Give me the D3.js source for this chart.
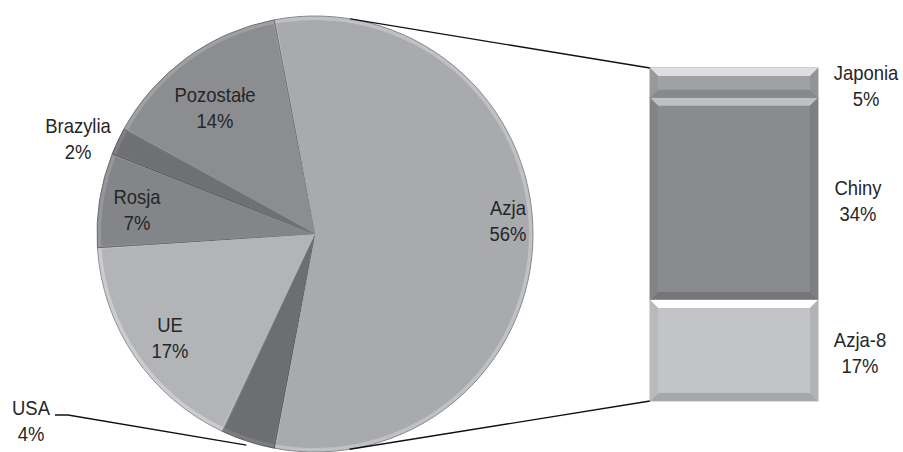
<!DOCTYPE html>
<html>
<head>
<meta charset="utf-8">
<script src="https://cdn.jsdelivr.net/npm/d3@7"></script>
<style>
  html, body { margin: 0; padding: 0; background: #fff; }
  svg { display: block; }
  text { font-family: "Liberation Sans", Arial, sans-serif; fill: #262626; }
</style>
</head>
<body>
<svg id="chart" width="903" height="452"></svg>
<script>
// Main pie: shares of each region (%), Azja is split out into the bar
const pieLabels = ["Azja", "USA", "UE", "Rosja", "Brazylia", "Pozostałe"];
const pieValues = [56, 4, 17, 7, 2, 14];
const pieColors = ["#a9aaad", "#6d6e71", "#b3b4b7", "#848588", "#6f7073", "#8c8d90"];

// Breakdown of Azja (%), stacked top to bottom
const barLabels = ["Japonia", "Chiny", "Azja-8"];
const barValues = [5, 34, 17];
const barColors = ["#a0a1a4", "#8a8b8e", "#c3c4c7"];

const svg = d3.select("#chart");
const cx = 315, cy = 234, R = 218;
const fs = 20.5, sx = 0.9, lh = 26;

// start so the Azja slice is centred on the right-hand side
const azjaAngle = pieValues[0] / d3.sum(pieValues) * 2 * Math.PI;
const startA = Math.PI / 2 - azjaAngle / 2;

const pie = d3.pie().sort(null).value(d => d)
  .startAngle(startA).endAngle(startA + 2 * Math.PI);
const arcs = pie(pieValues);
const arc = d3.arc().innerRadius(0).outerRadius(R);
const faceArc = d3.arc().innerRadius(0).outerRadius(R - 4).padAngle(0.012).padRadius(R);

const g = svg.append("g").attr("transform", `translate(${cx},${cy})`);

// slices with a soft bevel: light rim with darker outline, then inset face
g.selectAll("path.base").data(arcs).join("path")
  .attr("class", "base")
  .attr("d", arc)
  .attr("fill", (d, i) => d3.color(pieColors[i]).brighter(0.35))
  .attr("stroke", (d, i) => d3.color(pieColors[i]).darker(0.6))
  .attr("stroke-width", 1);
g.selectAll("path.face").data(arcs).join("path")
  .attr("class", "face")
  .attr("d", faceArc)
  .attr("fill", (d, i) => pieColors[i]);

// connectors from pie tangents to the bar corners
const barX0 = 650, barX1 = 818, barTop = 68, barBot = 401;
const y = d3.scaleLinear().domain([0, d3.sum(barValues)]).range([barTop, barBot]);
function tangentPoint(px, py, upper) {
  const dx = px - cx, dy = py - cy;
  const d = Math.hypot(dx, dy);
  const base = Math.atan2(dy, dx);
  const off = Math.acos(R / d);
  const a = upper ? base - off : base + off;
  return [cx + R * Math.cos(a), cy + R * Math.sin(a)];
}
const tTop = tangentPoint(barX0, y(0), true);
const tBot = tangentPoint(barX0, y(d3.sum(barValues)), false);
svg.append("line").attr("x1", tTop[0]).attr("y1", tTop[1])
  .attr("x2", barX0).attr("y2", y(0)).attr("stroke", "#111").attr("stroke-width", 1.3);
svg.append("line").attr("x1", tBot[0]).attr("y1", tBot[1])
  .attr("x2", barX0).attr("y2", y(d3.sum(barValues))).attr("stroke", "#111").attr("stroke-width", 1.3);

// stacked bar with bevelled segments
let acc = 0;
const segs = barValues.map((v, i) => { const s = { i, v, y0: acc, y1: acc + v }; acc += v; return s; });
const bg = svg.append("g");
segs.forEach(s => {
  const top = y(s.y0), bot = y(s.y1), c = barColors[s.i];
  const b = Math.min(8, (bot - top) / 3);
  bg.append("rect").attr("x", barX0).attr("y", top).attr("width", barX1 - barX0).attr("height", bot - top)
    .attr("fill", c).attr("stroke", d3.color(c).darker(0.5)).attr("stroke-width", 0.8);
  // top highlight
  bg.append("polygon")
    .attr("points", [[barX0, top], [barX1, top], [barX1 - b, top + b], [barX0 + b, top + b]].join(" "))
    .attr("fill", d3.color(c).brighter(0.9));
  // bottom shade
  bg.append("polygon")
    .attr("points", [[barX0, bot], [barX1, bot], [barX1 - b, bot - b], [barX0 + b, bot - b]].join(" "))
    .attr("fill", d3.color(c).darker(0.45));
  // side shades
  bg.append("polygon")
    .attr("points", [[barX0, top], [barX0 + b, top + b], [barX0 + b, bot - b], [barX0, bot]].join(" "))
    .attr("fill", d3.color(c).darker(0.15));
  bg.append("polygon")
    .attr("points", [[barX1, top], [barX1 - b, top + b], [barX1 - b, bot - b], [barX1, bot]].join(" "))
    .attr("fill", d3.color(c).darker(0.25));
});

// two-line labels (name + percentage)
function label(x, yb, name, pct) {
  const t = svg.append("text")
    .attr("transform", `translate(${x},${yb}) scale(${sx},1)`)
    .attr("text-anchor", "middle").attr("font-size", fs);
  t.append("tspan").attr("x", 0).attr("y", 0).text(name);
  t.append("tspan").attr("x", 0).attr("y", lh).text(pct + "%");
}

// pie label positions
const labelPos = [
  [508, 215], [31, 415], [170, 332], [137, 204], [78, 133], [215, 102]
];
pieLabels.forEach((n, i) => label(labelPos[i][0], labelPos[i][1], n, pieValues[i]));

// leader line for the small USA slice
const usa = arcs[1];
const mid = (usa.startAngle + usa.endAngle) / 2;
const ex = cx + (R + 4) * Math.sin(mid), ey = cy - (R + 4) * Math.cos(mid);
svg.append("polyline")
  .attr("points", [[55, 415], [68, 415], [ex, ey]].join(" "))
  .attr("fill", "none").attr("stroke", "#111").attr("stroke-width", 1.3);

// bar labels to the right of each segment
const barLabelX = [866, 858, 860];
segs.forEach(s => {
  const m = (y(s.y0) + y(s.y1)) / 2;
  const yb = s.i === 0 ? 80 : m - 3.5;
  label(barLabelX[s.i], yb, barLabels[s.i], barValues[s.i]);
});
</script>
</body>
</html>
